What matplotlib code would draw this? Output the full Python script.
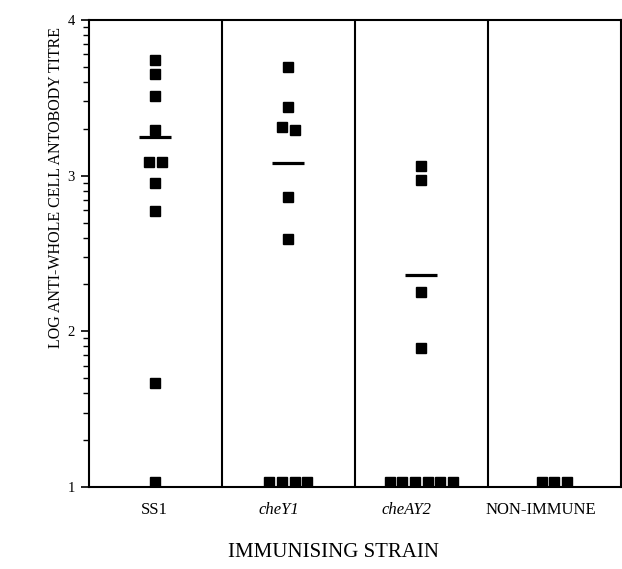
import numpy as np
import matplotlib.pyplot as plt

plt.rcParams['font.family'] = ['Liberation Serif', 'DejaVu Serif']

# log antibody titre per mouse, per immunising strain
strains = ['SS1', 'cheY1', 'cheAY2', 'NON-IMMUNE']
italic = [False, True, True, False]
ss1 = [3.74, 3.65, 3.51, 3.29, 3.09, 3.09, 2.95, 2.77, 1.67, 1.03]
chey1 = [3.70, 3.44, 3.31, 3.29, 2.86, 2.59, 1.03, 1.03, 1.03, 1.03]
cheay2 = [3.06, 2.97, 2.25, 1.89, 1.03, 1.03, 1.03, 1.03, 1.03, 1.03]
nonimmune = [1.03, 1.03, 1.03]
means = [3.25, 3.08, 2.36, None]

groups = [ss1, chey1, cheay2, nonimmune]


def spread(vals, centre, step=0.095, tol=0.05):
    # put near-equal values side by side
    vals = sorted(vals, reverse=True)
    xs, ys = [], []
    i = 0
    while i < len(vals):
        j = i
        while j + 1 < len(vals) and abs(vals[j + 1] - vals[i]) < tol:
            j += 1
        n = j - i + 1
        off = (np.arange(n) - (n - 1) / 2) * step
        xs += list(centre + off)
        ys += vals[i:j + 1]
        i = j + 1
    return xs, ys


fig = plt.figure(figsize=(6.22, 5.69), dpi=100)
ax = fig.add_axes([0.143, 0.144, 0.855, 0.821])

for k, g in enumerate(groups):
    c = k + 0.5
    x, y = spread(g, c)
    ax.plot(x, y, 's', color='black', ms=7, mec='black')
    if means[k] is not None:
        ax.plot([c - 0.12, c + 0.12], [means[k], means[k]], color='black', lw=2.3,
                solid_capstyle='butt')

for d in [1, 2, 3]:
    ax.axvline(d, color='black', lw=1.5)

ax.set_xlim(0, 4)
ax.set_ylim(1, 4)
ax.set_yticks([1, 2, 3, 4])
minor = [d + np.log10(m) for d in [1, 2, 3] for m in range(2, 10)]
ax.set_yticks(minor, minor=True)
ax.tick_params(axis='y', which='major', length=6, width=1.2, labelsize=10.5, pad=4)
ax.tick_params(axis='y', which='minor', length=4, width=1)

ax.set_xticks([0.49, 1.43, 2.39, 3.4])
labs = ax.set_xticklabels(strains, fontsize=12)
for t, it in zip(labs, italic):
    if it:
        t.set_style('italic')
ax.tick_params(axis='x', length=0, pad=11)

for s in ax.spines.values():
    s.set_linewidth(1.5)

ax.set_ylabel('LOG ANTI-WHOLE CELL ANTOBODY TITRE', fontsize=11.5, va='center')
ax.yaxis.set_label_coords(-0.062, 0.642)
ax.set_xlabel('IMMUNISING STRAIN', fontsize=15, va='center')
ax.xaxis.set_label_coords(0.46, -0.141)

fig.savefig('out.png', dpi=100)
